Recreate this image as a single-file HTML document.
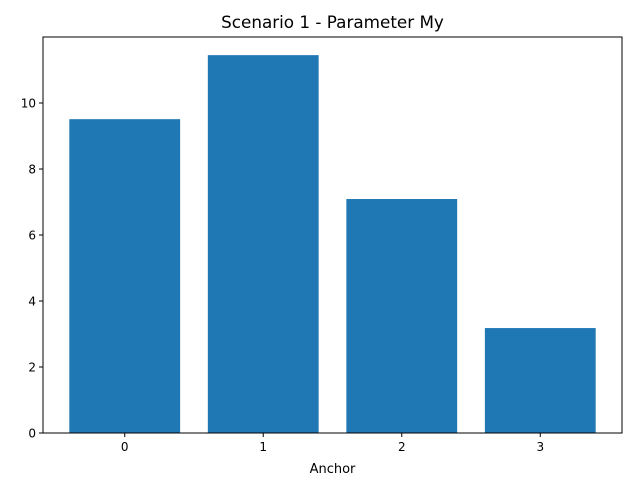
<!DOCTYPE html>
<html><head><meta charset="utf-8"><style>
body{margin:0;background:#fff;}
svg text{font-family:"DejaVu Sans","Liberation Sans",sans-serif;}
</style></head><body>
<svg id="chart" width="640" height="480" xmlns="http://www.w3.org/2000/svg">
<rect width="640" height="480" fill="#fff"/>
<text x="332.5" y="28" font-size="16.8" text-anchor="middle" fill="#000">Scenario 1 - Parameter My</text>
<g id="bars"></g>
<g id="axes"></g>
<text x="332.5" y="473" font-size="13" text-anchor="middle" fill="#000">Anchor</text>
</svg>
<script>
const categories = ["0","1","2","3"];
const values = [9.51, 11.45, 7.09, 3.18];
const yTicks = [0,2,4,6,8,10];

const L=43,R=622,T=37,B=433;
const xMin=-0.59,xMax=3.59,yMin=0,yMax=12;
const xs=v=>L+(v-xMin)/(xMax-xMin)*(R-L);
const ys=v=>B-(v-yMin)/(yMax-yMin)*(B-T);
const NS="http://www.w3.org/2000/svg";
const bars=document.getElementById('bars');
const axes=document.getElementById('axes');
function mk(tag,attrs,parent){const e=document.createElementNS(NS,tag);for(const k in attrs)e.setAttribute(k,attrs[k]);parent.appendChild(e);return e;}
values.forEach((v,i)=>{
  const r=mk('rect',{x:xs(i-0.4),y:ys(v),width:xs(i+0.4)-xs(i-0.4),height:ys(0)-ys(v),fill:'#1f77b4'},bars);
  
  
});
const frame=mk('rect',{x:L,y:T,width:R-L,height:B-T,fill:'none',stroke:'#000','stroke-width':1},axes);


categories.forEach((c,i)=>{
  const x=xs(i);
  const t=mk('line',{x1:x,x2:x,y1:B,y2:B+4,stroke:'#000'},axes);
  
  
  const lb=mk('text',{x:x,y:B+18,'font-size':12,'text-anchor':'middle',fill:'#000'},axes);
  lb.textContent=c;
  
  
});
yTicks.forEach(v=>{
  const y=ys(v);
  const t=mk('line',{x1:L-4,x2:L,y1:y,y2:y,stroke:'#000'},axes);
  
  
  const lb=mk('text',{x:L-7,y:y+4.5,'font-size':12,'text-anchor':'end',fill:'#000'},axes);
  lb.textContent=v;
  
  
});
</script>
</body></html>
